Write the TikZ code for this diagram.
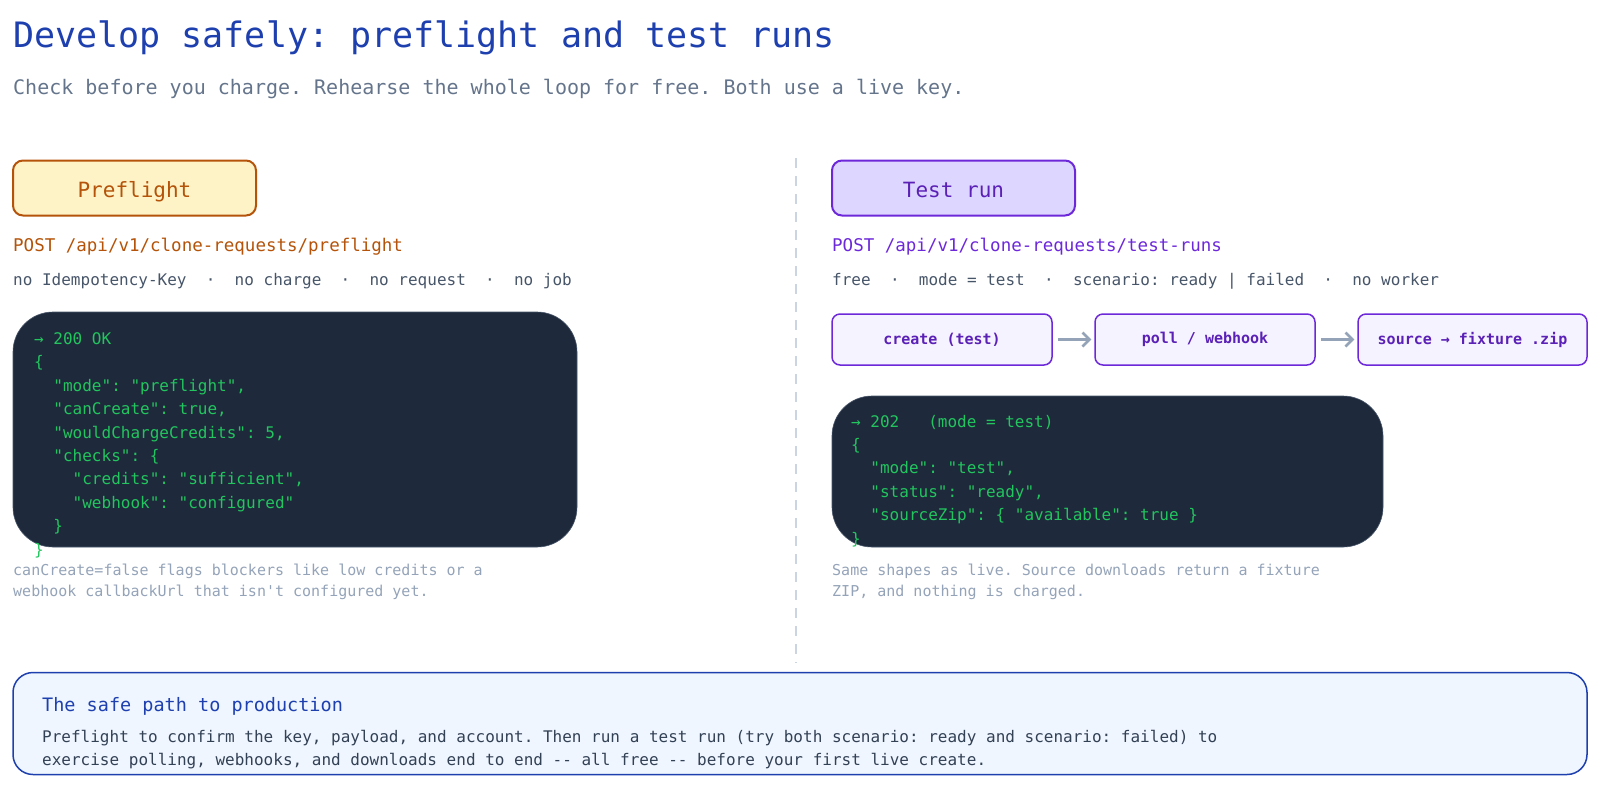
\documentclass[tikz,border=0pt]{standalone}
\usepackage{fontspec}
\setmonofont{DejaVu Sans Mono}
\renewcommand*\familydefault{\ttdefault}
\usepackage{xcolor}
\usepackage{tikz}
\usetikzlibrary{arrows.meta, positioning}

\definecolor{titleblue}{HTML}{1E40AF}
\definecolor{subgray}{HTML}{64748B}
\definecolor{factgray}{HTML}{475569}
\definecolor{notegray}{HTML}{94A3B8}
\definecolor{bodygray}{HTML}{334155}
\definecolor{amberline}{HTML}{B45309}
\definecolor{amberfill}{HTML}{FEF3C7}
\definecolor{violetline}{HTML}{6D28D9}
\definecolor{violetfill}{HTML}{DDD6FE}
\definecolor{violettext}{HTML}{5B21B6}
\definecolor{stepfill}{HTML}{F5F3FF}
\definecolor{codebg}{HTML}{1E293B}
\definecolor{codegreen}{HTML}{22C55E}
\definecolor{divline}{HTML}{CBD5E1}
\definecolor{notefill}{HTML}{EFF6FF}

\begin{document}
\begin{tikzpicture}[x=1pt, y=-1pt,
  every node/.style={inner sep=0pt},
  tagbox/.style={draw, line width=2pt, rounded corners=10pt, minimum width=243pt, minimum height=55pt, text height=19pt, text depth=0pt, font=\fontsize{21}{25}\selectfont},
  stepbox/.style={draw=violetline, line width=1.5pt, fill=stepfill, rounded corners=8pt, minimum height=51pt, text=violettext, font=\fontsize{15}{18}\selectfont\bfseries},
  codebox/.style={fill=codebg, draw=factgray, line width=0.6pt, rounded corners=40pt},
  codetext/.style={anchor=base west, align=left, text=codegreen, font=\fontsize{16}{23.4}\selectfont},
  endpoint/.style={anchor=base west, font=\fontsize{17.5}{21}\selectfont},
  facts/.style={anchor=base west, text=factgray, font=\fontsize{16}{19}\selectfont},
  note/.style={anchor=base west, align=left, text=notegray, font=\fontsize{15}{21}\selectfont},
  flowarrow/.style={-{Straight Barb[length=7pt,width=14pt]}, line width=2.5pt, draw=notegray, shorten <=5pt, shorten >=3pt}]

\useasboundingbox (0,0) rectangle (1600,788);

% Heading
\node[anchor=base west, text=titleblue, font=\fontsize{35}{40}\selectfont] (title) at (13,47) {Develop safely: preflight and test runs};
\node[anchor=base west, text=subgray, font=\fontsize{20}{24}\selectfont] (subtitle) at (13,94) {Check before you charge. Rehearse the whole loop for free. Both use a live key.};

% Divider
\draw[divline, line width=1.5pt, dash pattern=on 10pt off 8pt] (796,158) -- (796,663);

% Left column (Preflight), multi-line texts sit on their last baseline
\node[tagbox, draw=amberline, fill=amberfill, text=amberline] (preflight) at (134.5,188) {Preflight};
\node[endpoint, text=amberline] (preurl) at (13,251) {POST /api/v1/clone-requests/preflight};
\node[facts] (prefacts) at (13,285) {no Idempotency-Key\ \ ·\ \ no charge\ \ ·\ \ no request\ \ ·\ \ no job};
\node[codebox, minimum width=564pt, minimum height=235pt] (okbox) at (295,429.5) {};
\node[codetext] (okcode) at (34,555) {→ 200 OK\\
\{\\
\ \ "mode": "preflight",\\
\ \ "canCreate": true,\\
\ \ "wouldChargeCredits": 5,\\
\ \ "checks": \{\\
\ \ \ \ "credits": "sufficient",\\
\ \ \ \ "webhook": "configured"\\
\ \ \}\\
\}};
\node[note] (prenote) at (13,596) {canCreate=false flags blockers like low credits or a\\webhook callbackUrl that isn't configured yet.};

% Right column (Test run)
\node[tagbox, draw=violetline, fill=violetfill, text=violettext] (testrun) at (953.5,188) {Test run};
\node[endpoint, text=violetline] (testurl) at (832,251) {POST /api/v1/clone-requests/test-runs};
\node[facts] (testfacts) at (832,285) {free\ \ ·\ \ mode = test\ \ ·\ \ scenario: ready | failed\ \ ·\ \ no worker};
\node[stepbox, minimum width=220pt] (create) at (942,339.5) {create (test)};
\node[stepbox, minimum width=220pt] (poll) at (1205,339.5) {poll / webhook};
\node[stepbox, minimum width=229pt] (fixture) at (1472.5,339.5) {source → fixture .zip};
\draw[flowarrow] (create) -- (poll);
\draw[flowarrow] (poll) -- (fixture);
\node[codebox, minimum width=551pt, minimum height=151pt] (testbox) at (1107.5,471.5) {};
\node[codetext] (testcode) at (851,544) {→ 202\ \ \ (mode = test)\\
\{\\
\ \ "mode": "test",\\
\ \ "status": "ready",\\
\ \ "sourceZip": \{ "available": true \}\\
\}};
\node[note] (testnote) at (832,596) {Same shapes as live. Source downloads return a fixture\\ZIP, and nothing is charged.};

% Safe path
\node[draw=titleblue, line width=1.5pt, fill=notefill, rounded corners=20pt, minimum width=1574pt, minimum height=102pt] (pathbox) at (800,723.5) {};
\node[anchor=base west, text=titleblue, font=\fontsize{18.5}{22}\selectfont] (pathtitle) at (42,711) {The safe path to production};
\node[anchor=base west, align=left, text=bodygray, font=\fontsize{16}{23}\selectfont] (pathtext) at (42,765) {Preflight to confirm the key, payload, and account. Then run a test run (try both scenario: ready and scenario: failed) to\\exercise polling, webhooks, and downloads end to end -- all free -- before your first live create.};

\end{tikzpicture}
\end{document}
